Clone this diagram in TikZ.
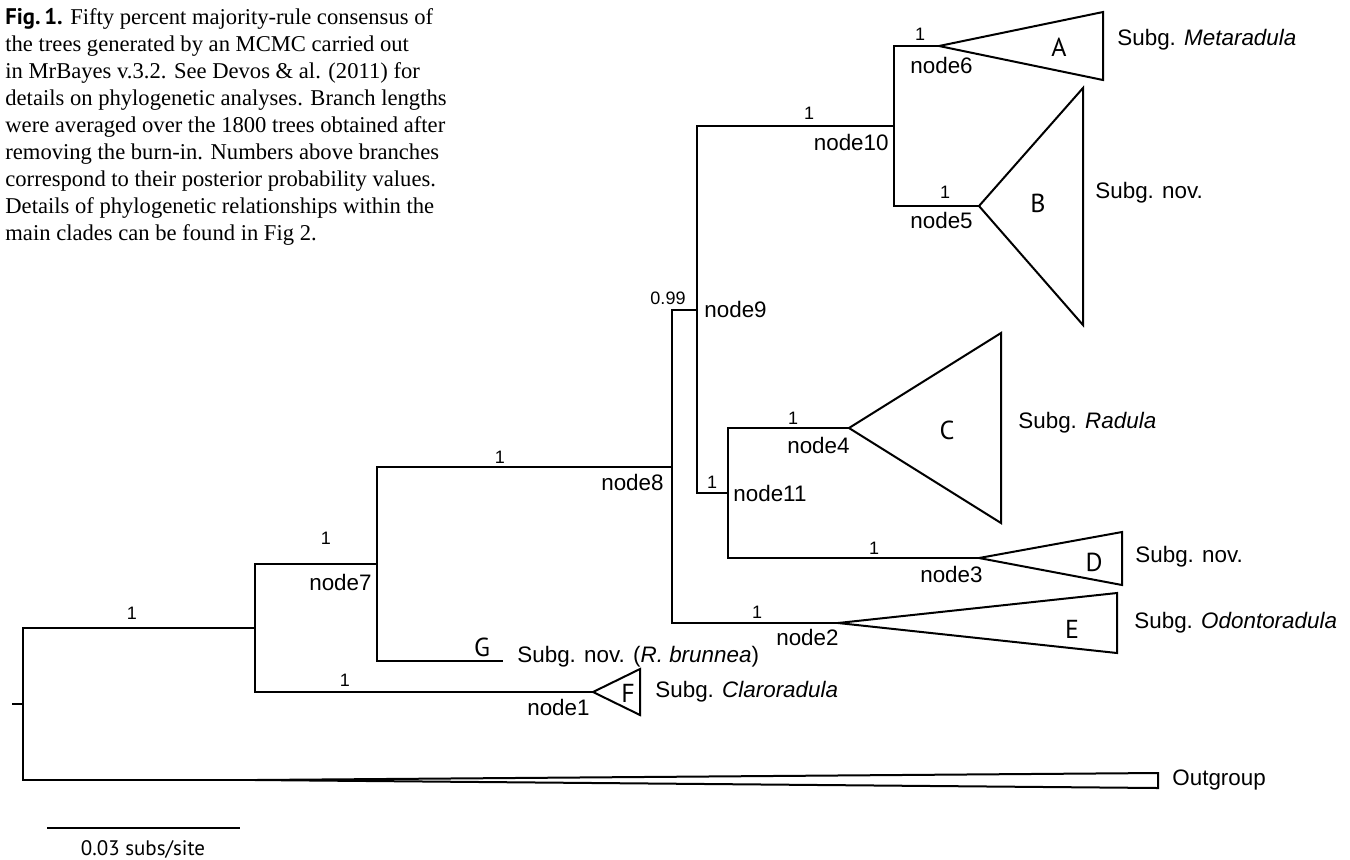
\documentclass[tikz,border=0pt]{standalone}
\usepackage{fontspec}
\setmainfont{Liberation Serif}
\setsansfont{Liberation Sans}
\newfontfamily\capfont{PT Sans}
\usepackage{tikz}
\usetikzlibrary{positioning}

\begin{document}
\begin{tikzpicture}[x=0.5pt, y=-0.5pt,
    branch/.style={line width=1pt},
    pp/.style={font=\sffamily\fontsize{9}{10}\selectfont, inner sep=0pt},
    nlab/.style={font=\sffamily\fontsize{11.2}{13}\selectfont, inner sep=0pt},
    clade/.style={font=\capfont\fontsize{13}{15}\selectfont, inner sep=0pt},
    subg/.style={font=\sffamily\fontsize{11.2}{13}\selectfont, inner sep=0pt, anchor=west}
]
    \useasboundingbox (0,0) rectangle (1350,859);

    \node[anchor=north west, inner sep=0pt, align=left,
          font=\fontsize{11.3}{13.5}\selectfont] (caption) at (5,8)
        {{\capfont\bfseries Fig.\,1.} Fifty percent majority-rule consensus of\\
         the trees generated by an MCMC carried out\\
         in MrBayes v.3.2. See Devos \& al. (2011) for\\
         details on phylogenetic analyses. Branch lengths\\
         were averaged over the 1800 trees obtained after\\
         removing the burn-in. Numbers above branches\\
         correspond to their posterior probability values.\\
         Details of phylogenetic relationships within the\\
         main clades can be found in Fig 2.};

    \coordinate (tick) at (12,704);
    \coordinate (root) at (23,704);
    \coordinate (nA) at (255,628);
    \coordinate (og) at (255,780);
    \coordinate (node7) at (377,564);
    \coordinate (node1) at (593,692);
    \coordinate (tipG) at (503,661);
    \coordinate (node8) at (672,467);
    \coordinate (node2) at (838,623);
    \coordinate (node9) at (697,310);
    \coordinate (node10) at (894,126);
    \coordinate (node11) at (728,493);
    \coordinate (node6) at (939,46);
    \coordinate (node5) at (979,206);
    \coordinate (node4) at (849,428);
    \coordinate (node3) at (979,558);

    \draw[branch] (tick) -- (root);
    \draw[branch] (root) |- (nA);
    \draw[branch] (root) |- (og);
    \draw[branch] (nA) |- (node7);
    \draw[branch] (nA) |- (node1);
    \draw[branch] (node7) |- (node8);
    \draw[branch] (node7) |- (tipG);
    \draw[branch] (node8) |- (node9);
    \draw[branch] (node8) |- (node2);
    \draw[branch] (node9) |- (node10);
    \draw[branch] (node9) |- (node11);
    \draw[branch] (node10) |- (node6);
    \draw[branch] (node10) |- (node5);
    \draw[branch] (node11) |- (node4);
    \draw[branch] (node11) |- (node3);

    \draw[branch] (node6) -- ++(164,-34) -- ++(0,68) -- cycle;
    \draw[branch] (node5) -- ++(104,-118) -- ++(0,237) -- cycle;
    \draw[branch] (node4) -- ++(152,-95) -- ++(0,190) -- cycle;
    \draw[branch] (node3) -- ++(143,-26) -- ++(0,53) -- cycle;
    \draw[branch] (node2) -- ++(279,-30) -- ++(0,60) -- cycle;
    \draw[branch] (node1) -- ++(47,-23) -- ++(0,46) -- cycle;
    \draw[branch] (og) -- ++(903,-7) -- ++(0,15) -- cycle;

    \node[pp] (ppA) at (132,613) {1};
    \node[pp] (pp7) at (326,538) {1};
    \node[pp] (pp1) at (345,680) {1};
    \node[pp] (pp8) at (500,457) {1};
    \node[pp] (pp9) at (668,298) {0.99};
    \node[pp] (pp10) at (809,113) {1};
    \node[pp] (pp6) at (920,34) {1};
    \node[pp] (pp5) at (945,192) {1};
    \node[pp] (pp11) at (712,482) {1};
    \node[pp] (pp4) at (793,418) {1};
    \node[pp] (pp3) at (874,548) {1};
    \node[pp] (pp2) at (757,612) {1};

    \node[nlab, anchor=east] (lab7) at (372,582) {node7};
    \node[nlab, anchor=east] (lab8) at (664,482) {node8};
    \node[nlab, anchor=east] (lab1) at (590,707) {node1};
    \node[nlab, anchor=west] (lab9) at (704,309) {node9};
    \node[nlab, anchor=east] (lab10) at (889,142) {node10};
    \node[nlab, anchor=west] (lab6) at (910,65) {node6};
    \node[nlab, anchor=west] (lab5) at (910,220) {node5};
    \node[nlab, anchor=west] (lab11) at (733,493) {node11};
    \node[nlab, anchor=east] (lab4) at (850,445) {node4};
    \node[nlab, anchor=east] (lab3) at (983,574) {node3};
    \node[nlab, anchor=east] (lab2) at (839,637) {node2};

    \node[clade] (cA) at (1059,47) {A};
    \node[clade] (cB) at (1038,203) {B};
    \node[clade] (cC) at (947,430) {C};
    \node[clade] (cD) at (1094,562) {D};
    \node[clade] (cE) at (1072,629) {E};
    \node[clade] (cF) at (628,693) {F};
    \node[clade] (cG) at (482,647) {G};

    \node[subg] (sA) at (1117,40) {Subg. \textit{Metaradula}};
    \node[subg] (sB) at (1095,193) {Subg. nov.};
    \node[subg] (sC) at (1018,423) {Subg. \textit{Radula}};
    \node[subg] (sD) at (1135,557) {Subg. nov.};
    \node[subg] (sE) at (1134,623) {Subg. \textit{Odontoradula}};
    \node[subg] (sF) at (655,692) {Subg. \textit{Claroradula}};
    \node[subg] (sG) at (517,657) {Subg. nov. (\textit{R. brunnea})};
    \node[subg] (sOut) at (1172,780) {Outgroup};

    \coordinate (bar1) at (47,828);
    \coordinate (bar2) at (240,828);
    \draw[branch] (bar1) -- (bar2);
    \node[clade, font=\capfont\fontsize{10.5}{12}\selectfont] (barlab) at (143,849) {0.03 subs/site};
\end{tikzpicture}
\end{document}
